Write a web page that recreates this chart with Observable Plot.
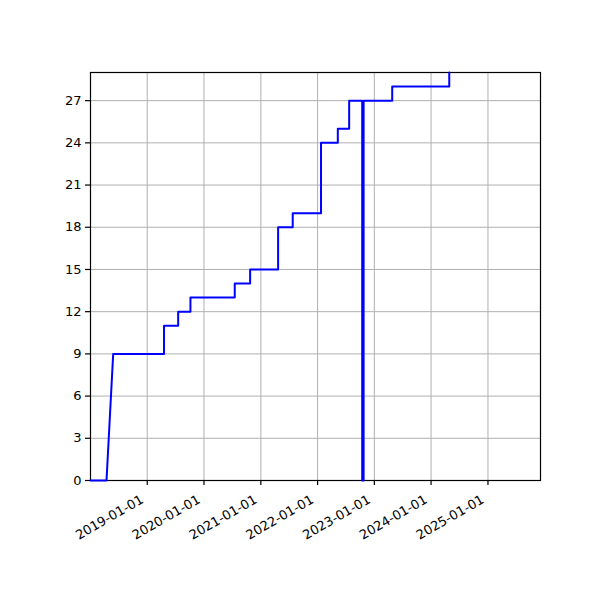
<!DOCTYPE html>
<html>
<head>
<meta charset="utf-8">
<script src="https://cdn.jsdelivr.net/npm/d3@7"></script>
<script src="https://cdn.jsdelivr.net/npm/@observablehq/plot@0.6"></script>
<style>
  html, body { margin: 0; padding: 0; background: #fff; }
  #chart { width: 600px; height: 600px; }
</style>
</head>
<body>
<div id="chart"></div>
<script>
// Polyline vertices of the cumulative count line
const dates = [
  "2018-01-01", "2018-04-14", "2018-05-27", "2019-04-19", "2019-04-19",
  "2019-07-19", "2019-07-19", "2019-10-06", "2019-10-06", "2020-07-17",
  "2020-07-17", "2020-10-24", "2020-10-24", "2021-04-22", "2021-04-22",
  "2021-07-25", "2021-07-25", "2022-01-23", "2022-01-23", "2022-05-11",
  "2022-05-11", "2022-07-23", "2022-07-23", "2022-10-15", "2022-10-15",
  "2022-10-24", "2022-10-24", "2023-04-26", "2023-04-26", "2024-04-27",
  "2024-04-27"
];
const counts = [
  0, 0, 9, 9, 11,
  11, 12, 12, 13, 13,
  14, 14, 15, 15, 18,
  18, 19, 19, 24, 24,
  25, 25, 27, 27, 0,
  0, 27, 27, 28, 28,
  29
];
const xTickDates = ["2019-01-01", "2020-01-01", "2021-01-01", "2022-01-01", "2023-01-01", "2024-01-01", "2025-01-01"];
const yTicks = [0, 3, 6, 9, 12, 15, 18, 21, 24, 27];
const xDomain = ["2018-01-01", "2025-12-05"];
const yDomain = [0, 29];

const data = dates.map((d, i) => ({date: new Date(d), count: counts[i]}));
const xt = xTickDates.map(d => new Date(d));
const fmt = d3.utcFormat("%Y-%m-%d");

const chart = Plot.plot({
  width: 600,
  height: 600,
  marginLeft: 90,
  marginRight: 60,
  marginTop: 72,
  marginBottom: 120,
  style: {fontFamily: "DejaVu Sans", fontSize: "13px", background: "white", color: "black"},
  x: {type: "utc", domain: xDomain.map(d => new Date(d))},
  y: {domain: yDomain},
  marks: [
    Plot.gridX(xt, {stroke: "#b0b0b0", strokeOpacity: 1, strokeWidth: 1}),
    Plot.gridY(yTicks, {stroke: "#b0b0b0", strokeOpacity: 1, strokeWidth: 1}),
    Plot.frame({stroke: "black", strokeWidth: 1.2}),
    Plot.line(data, {x: "date", y: "count", stroke: "blue", strokeWidth: 2}),
    Plot.axisY(yTicks, {tickSize: 5, tickPadding: 4, label: null, fontSize: 13, strokeWidth: 1.2}),
    Plot.axisX(xt, {tickSize: 5, tickPadding: 4, label: null, tickFormat: fmt, tickRotate: -30, fontSize: 13, strokeWidth: 1.2, textStroke: null}),
  ]
});
document.getElementById("chart").appendChild(chart);
// shift rotated x labels to match the reference placement
chart.querySelectorAll("g[aria-label='x-axis tick label'] text").forEach(t => {
  const tr = t.getAttribute("transform") || "";
  t.setAttribute("transform", tr.replace(/translate\(([^,]+),([^)]+)\)/, (m, a, b) => `translate(${+a - 5},${+b + 9})`));
});
</script>
</body>
</html>
